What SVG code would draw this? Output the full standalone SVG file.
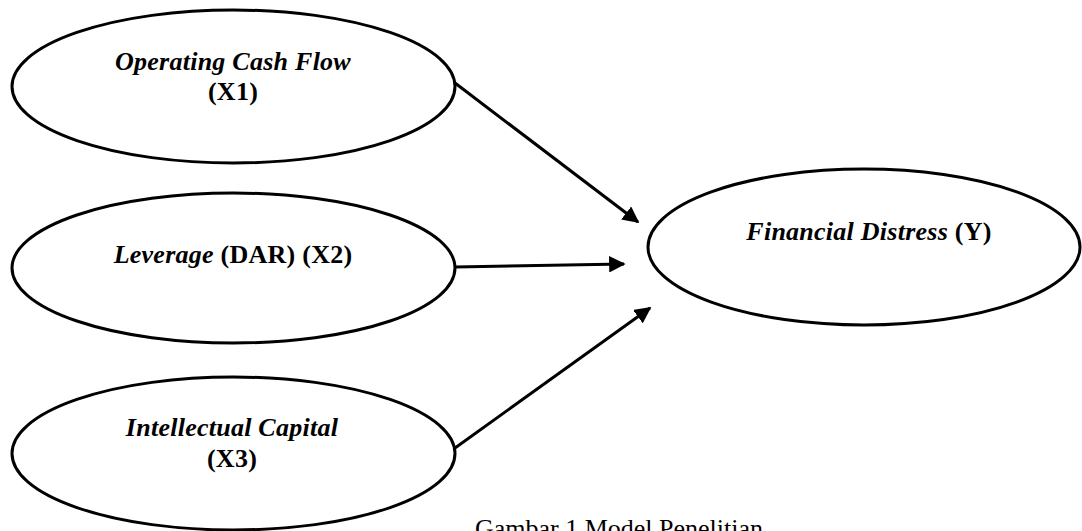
<svg xmlns="http://www.w3.org/2000/svg" width="1082" height="531" viewBox="0 0 1082 531">
<defs>
<style>
.node ellipse{fill:#fff;stroke:#000;stroke-width:3}
.lbl{font-family:"Liberation Serif","Times New Roman",serif;font-size:26px;letter-spacing:0.25px;text-anchor:middle;fill:#000}
.i{font-style:italic;font-weight:bold}
.b{font-weight:bold}
.edge{stroke:#000;stroke-width:3;fill:none;marker-end:url(#ah)}
.cap{font-family:"Liberation Serif","Times New Roman",serif;font-size:26px;fill:#000}
</style>
<marker id="ah" viewBox="0 0 10 10" refX="9" refY="5" markerWidth="5.5" markerHeight="5.5" orient="auto" markerUnits="strokeWidth">
<path d="M0,0 L10,5 L0,10 Z" fill="#000"/>
</marker>
</defs>
<rect width="1082" height="531" fill="#fff"/>
<g id="x1" class="node">
<ellipse cx="233.5" cy="86.5" rx="221.5" ry="76.5"/>
<text class="lbl" x="233" y="70"><tspan class="i">Operating Cash Flow</tspan></text>
<text class="lbl b" x="233" y="100">(X1)</text>
</g>
<g id="x2" class="node">
<ellipse cx="233.5" cy="268" rx="221.5" ry="75"/>
<text class="lbl" x="233" y="263"><tspan class="i">Leverage</tspan><tspan class="b"> (DAR) (X2)</tspan></text>
</g>
<g id="x3" class="node">
<ellipse cx="233.5" cy="453.5" rx="221.5" ry="76.5"/>
<text class="lbl" x="232" y="436"><tspan class="i">Intellectual Capital</tspan></text>
<text class="lbl b" x="232" y="467">(X3)</text>
</g>
<g id="y" class="node">
<ellipse cx="864" cy="247" rx="216" ry="78"/>
<text class="lbl" x="869" y="240"><tspan class="i">Financial Distress</tspan><tspan class="b"> (Y)</tspan></text>
</g>
<g id="connectors">
<line class="edge" x1="455" y1="83" x2="638" y2="222"/>
<line class="edge" x1="455" y1="267" x2="624" y2="264"/>
<line class="edge" x1="455" y1="448" x2="650" y2="308"/>
</g>
<text id="caption" class="cap" x="763" y="537" text-anchor="end">Gambar 1 Model Penelitian</text>
</svg>
